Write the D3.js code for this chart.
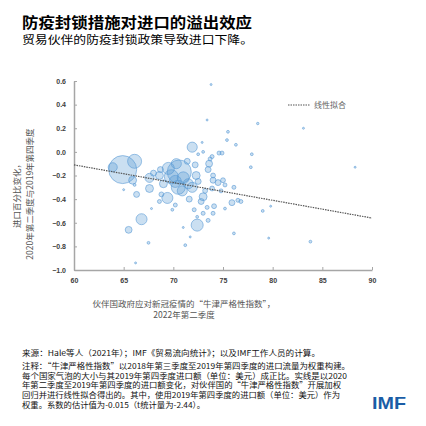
<!DOCTYPE html>
<html>
<head>
<meta charset="utf-8">
<script src="https://cdn.jsdelivr.net/npm/d3@7"></script>
<style>
  body { margin: 0; background: #fff; }
  svg { display: block; }
</style>
</head>
<body>
<div class="chart-container"></div>
<script>
// 牛津严格性指数 (x), 进口变化 (y), 2019Q4 进口额 (气泡大小, 相对值)
const stringency = [
  64.9, 66.1, 63.9, 71.9, 70.6, 70.5, 69.4, 66.8, 65.5, 72.4,
  73.0, 72.8, 67.6, 67.6, 65.9, 66.3, 68.0,
  69.5, 69.8, 70.2, 71.0, 71.5, 71.9, 70.9, 69.0, 68.6, 72.3,
  72.2, 71.4, 68.7, 70.3, 72.5, 73.2, 71.6, 70.2, 68.8,
  73.5, 73.6, 74.0, 74.5, 75.0, 74.0, 73.9, 75.2, 76.1, 74.8,
  75.9, 76.5, 76.8, 74.1, 73.4, 73.0, 74.0, 75.2, 73.5, 74.6,
  73.7, 73.9, 75.5, 75.4, 76.3, 74.9, 77.9, 77.8, 78.5, 83.1,
  88.3, 79.0, 79.8, 76.1, 79.6, 83.8, 73.4, 73.8, 72.9, 73.0,
  72.5, 67.5, 66.2, 71.2, 71.7, 71.0, 68.6, 67.8, 66.1, 65.0,
  69.9, 72.1, 72.4
];
const importChange = [
  -0.15, -0.08, -0.13, 0.04, -0.17, -0.30, -0.39, -0.57, -0.66, -0.62,
  -0.38, -0.42, -0.22, -0.31, -0.24, -0.36, -0.18,
  -0.14, -0.21, -0.25, -0.22, -0.27, -0.30, -0.33, -0.27, -0.20, -0.20,
  -0.11, -0.08, -0.15, -0.10, -0.25, -0.33, -0.40, -0.45, -0.36,
  -0.15, -0.10, -0.24, -0.26, -0.24, -0.20, -0.31, -0.28, -0.30, -0.33,
  -0.43, -0.41, -0.42, -0.46, -0.47, -0.52, -0.52, -0.48, -0.58, -0.01,
  -0.06, -0.04, 0.17, 0.10, 0.06, -0.01, -0.02, -0.13, 0.24, 0.20,
  -0.13, -0.50, -0.46, -0.69, -0.73, -0.76, 0.27, 0.57, 0.08, 0.00,
  -0.02, -0.77, -0.94, -0.79, -0.72, -0.64, -0.42, -0.48, -0.28, -0.32,
  -0.49, -0.49, -0.55
];
const imports2019 = [
  200, 50, 21, 26, 147, 50, 31, 31, 12, 37,
  16, 9, 21, 16, 16, 9, 9,
  37, 50, 37, 37, 26, 26, 26, 16, 16, 16,
  9, 9, 9, 26, 9, 6, 9, 4, 6,
  9, 12, 9, 9, 6, 6, 6, 4, 4, 4,
  9, 4, 4, 6, 4, 4, 4, 2, 4, 4,
  4, 4, 2, 2, 2, 4, 2, 2, 1.5, 1,
  1, 2, 1, 2, 1, 2, 1, 1, 1, 2,
  2, 2, 1, 2, 1, 1, 4, 1, 2, 1,
  2, 4, 2
];
const fitLine = [[60, -0.11], [90, -0.56]];
const xTicks = [60, 65, 70, 75, 80, 85, 90];
const yTicks = [0.6, 0.4, 0.2, 0.0, -0.2, -0.4, -0.6, -0.8, -1.0];

const titleText = "防疫封锁措施对进口的溢出效应";
const subtitleText = "贸易伙伴的防疫封锁政策导致进口下降。";
const legendText = "线性拟合";
const yTitle = ["进口百分比变化，", "2020年第二季度与2019年第四季度"];
const xTitle = ["伙伴国政府应对新冠疫情的“牛津严格性指数”，", "2022年第二季度"];
const notes = [
  "来源：Hale等人（2021年）；IMF《贸易流向统计》；以及IMF工作人员的计算。",
  "注释：“牛津严格性指数”以2018年第三季度至2019年第四季度的进口流量为权重构建。",
  "每个国家气泡的大小与其2019年第四季度进口额（单位：美元）成正比。实线是以2020",
  "年第二季度至2019年第四季度的进口额变化，对伙伴国的“牛津严格性指数”开展加权",
  "回归并进行线性拟合得出的。其中，使用2019年第四季度的进口额（单位：美元）作为",
  "权重。系数的估计值为-0.015（t统计量为-2.44）。"
];

const W = 426, H = 426;
const margin = {top: 81, right: 54, bottom: 156, left: 74};
const plotW = W - margin.left - margin.right;
const plotH = H - margin.top - margin.bottom;
const cjk = "'Noto Sans CJK SC', 'Noto Sans', sans-serif";

const svg = d3.select('.chart-container').append('svg')
  .attr('width', W).attr('height', H);

// 标题
svg.append('text').attr('x', 22).attr('y', 28)
  .style('font-family', cjk).style('font-weight', 700).style('font-size', '15px')
  .attr('textLength', 230).attr('lengthAdjust', 'spacingAndGlyphs')
  .text(titleText);
svg.append('text').attr('x', 22).attr('y', 43.5)
  .style('font-family', cjk).style('font-size', '11.5px')
  .attr('textLength', 231).attr('lengthAdjust', 'spacingAndGlyphs')
  .text(subtitleText);

const g = svg.append('g').attr('transform', `translate(${margin.left},${margin.top})`);

const x = d3.scaleLinear().domain([60, 90]).range([0, plotW]);
const y = d3.scaleLinear().domain([-1.0, 0.6]).range([plotH, 0]);
const r = d3.scaleSqrt().domain([0, d3.max(imports2019)]).range([0, 14]);

const bubbles = stringency.map((d, i) => ({x: d, y: importChange[i], s: imports2019[i]}))
  .sort((a, b) => b.s - a.s);

// 坐标轴
const xAxis = d3.axisBottom(x).tickValues(xTicks).tickSizeInner(-3).tickSizeOuter(0)
  .tickPadding(8).tickFormat(d3.format('d'));
const yAxis = d3.axisLeft(y).tickValues(yTicks).tickSizeInner(-3).tickSizeOuter(0)
  .tickPadding(8).tickFormat(d3.format('.1f'));

const xAxisDraw = g.append('g').attr('class', 'x axis')
  .attr('transform', `translate(0,${plotH})`).call(xAxis);
const yAxisDraw = g.append('g').attr('class', 'y axis').call(yAxis);

[xAxisDraw, yAxisDraw].forEach(a => {
  a.select('.domain').attr('stroke', '#a6a6a6').attr('stroke-width', 1.5);
  a.selectAll('.tick line').attr('stroke', '#a6a6a6');
  a.selectAll('.tick text').style('font-family', 'Arial, Liberation Sans, sans-serif')
    .style('font-size', '7px').style('font-weight', 700).attr('fill', '#404040');
});

// 气泡
g.append('g').attr('class', 'bubbles').selectAll('circle')
  .data(bubbles).join('circle')
  .attr('cx', d => x(d.x)).attr('cy', d => y(d.y))
  .attr('r', d => Math.max(r(d.s), 0.8))
  .attr('fill', '#5b9bd5').attr('fill-opacity', 0.32)
  .attr('stroke', '#5b9bd5').attr('stroke-opacity', 0.75).attr('stroke-width', 0.8);

// 线性拟合
g.append('path').datum(fitLine)
  .attr('d', d3.line().x(d => x(d[0])).y(d => y(d[1])))
  .attr('fill', 'none').attr('stroke', '#555').attr('stroke-width', 1.2)
  .attr('stroke-dasharray', '1.5,1');

// 图例
const legend = svg.append('g').attr('transform', 'translate(288,105)');
legend.append('line').attr('x1', 0).attr('x2', 22).attr('y1', 0).attr('y2', 0)
  .attr('stroke', '#555').attr('stroke-width', 1.2).attr('stroke-dasharray', '1.5,1');
legend.append('text').attr('x', 26).attr('y', 3)
  .style('font-family', cjk).style('font-size', '8px').attr('fill', '#666')
  .text(legendText);

// 轴标题
svg.append('g').attr('transform', 'translate(20,194) rotate(-90)')
  .selectAll('text').data(yTitle).join('text')
  .attr('x', 0).attr('y', (d, i) => i * 12.5)
  .attr('text-anchor', 'middle')
  .style('font-family', cjk).style('font-size', '8.5px').attr('fill', '#555')
  .text(d => d);

svg.append('g').selectAll('text').data(xTitle).join('text')
  .attr('x', 184).attr('y', (d, i) => 307 + i * 11)
  .attr('text-anchor', 'middle')
  .style('font-family', cjk).style('font-size', '8.5px').attr('fill', '#555')
  .text(d => d);

// 注释
const noteY = [356, 369, 378.5, 388, 397.5, 408];
const noteLen = [298, 328, 325, 319, 318, 183];
svg.append('g').selectAll('text').data(notes).join('text')
  .attr('x', 22).attr('y', (d, i) => noteY[i])
  .attr('textLength', (d, i) => noteLen[i]).attr('lengthAdjust', 'spacingAndGlyphs')
  .style('font-family', cjk).style('font-size', '8px').attr('fill', '#111')
  .text(d => d);

// IMF 标志
svg.append('text').attr('x', 372).attr('y', 409)
  .attr('textLength', 34).attr('lengthAdjust', 'spacingAndGlyphs')
  .style('font-family', 'Arial, Liberation Sans, sans-serif').style('font-weight', 700)
  .style('font-size', '16.5px').attr('fill', '#1a5da6')
  .text('IMF');
</script>
</body>
</html>
